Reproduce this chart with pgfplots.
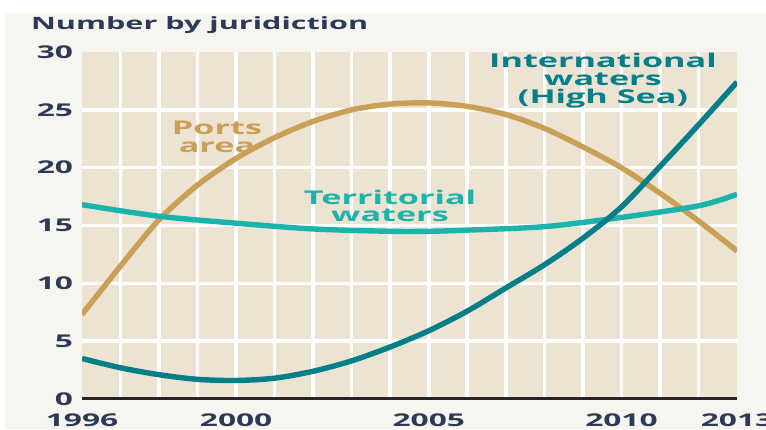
\documentclass[border=0pt]{standalone}
\usepackage{pgfplots}
\pgfplotsset{compat=1.18}
\usepackage{fontspec}
\setmainfont{Open Sans}[FakeStretch=1.8]
\definecolor{outerbg}{HTML}{F6F5F0}
\definecolor{plotbg}{HTML}{ECE3D3}
\definecolor{navy}{HTML}{2D3A57}
\definecolor{tancol}{HTML}{C9A055}
\definecolor{turq}{HTML}{1AB4AC}
\definecolor{dteal}{HTML}{007F88}
\begin{document}
\begin{tikzpicture}[x=1pt,y=1pt]
\useasboundingbox (0,0) rectangle (383,214.5);
\fill[white] (0,0) rectangle (383,214.5);
\fill[outerbg] (2.5,0) rectangle (383,208);
\begin{axis}[at={(41pt,15pt)}, anchor=south west,
  scale only axis, width=327.5pt, height=173.5pt,
  xmin=1996, xmax=2013, ymin=0, ymax=30,
  axis background/.style={fill=plotbg},
  axis line style={draw=none},
  xtick={1997,...,2012}, xticklabels={},
  extra x ticks={1996,2000,2005,2010,2013},
  extra x tick style={grid=none},
  ytick={5,10,...,25},
  extra y ticks={0,30},
  extra y tick style={grid=none},
  grid=major, major grid style={white, line width=1.8pt},
  major tick length=0pt,
  ticklabel style={font=\bfseries\fontsize{8.8}{10}\selectfont, text=navy},
  xticklabel style={yshift=-4pt},
  yticklabel style={xshift=-1pt},
  /pgf/number format/1000 sep={},
  /pgf/number format/assume math mode=true,
]
\addplot[tancol, line width=2.7pt, smooth] coordinates {
(1996,7.3) (1997,11.5) (1998,15.5) (1999,18.5) (2000,20.8) (2001,22.6) (2002,24.0) (2003,25.0) (2004,25.5) (2005,25.6) (2006,25.3) (2007,24.6) (2008,23.4) (2009,21.8) (2010,20.0) (2011,17.8) (2012,15.4) (2013,12.8)};
\addplot[turq, line width=2.7pt, smooth] coordinates {
(1996,16.8) (1998,15.8) (2000,15.2) (2002,14.7) (2004,14.5) (2005,14.5) (2006,14.6) (2008,14.9) (2010,15.7) (2012,16.7) (2013,17.7)};
\addplot[dteal, line width=2.7pt, smooth] coordinates {
(1996,3.5) (1997,2.7) (1998,2.1) (1999,1.7) (2000,1.6) (2001,1.8) (2002,2.4) (2003,3.3) (2004,4.5) (2005,5.9) (2006,7.6) (2007,9.6) (2008,11.6) (2009,13.9) (2010,16.6) (2011,20.1) (2012,23.7) (2013,27.4)};
\draw[line width=2pt, black!85] (axis cs:1996,0) -- (axis cs:2013,0);
\end{axis}
\node[anchor=west, text=navy, font=\bfseries\fontsize{8.5}{10}\selectfont] at (12,202) {Number by juridiction};
\node[align=center, text=tancol, font=\bfseries\fontsize{9.5}{9}\selectfont] at (108.5,146) {Ports\\area};
\node[align=center, text=turq, font=\bfseries\fontsize{9.5}{8.5}\selectfont] at (195,111.5) {Territorial\\waters};
\node[align=center, text=dteal, font=\bfseries\fontsize{9.5}{9}\selectfont] at (301.5,174) {International\\waters\\(High Sea)};
\end{tikzpicture}
\end{document}
